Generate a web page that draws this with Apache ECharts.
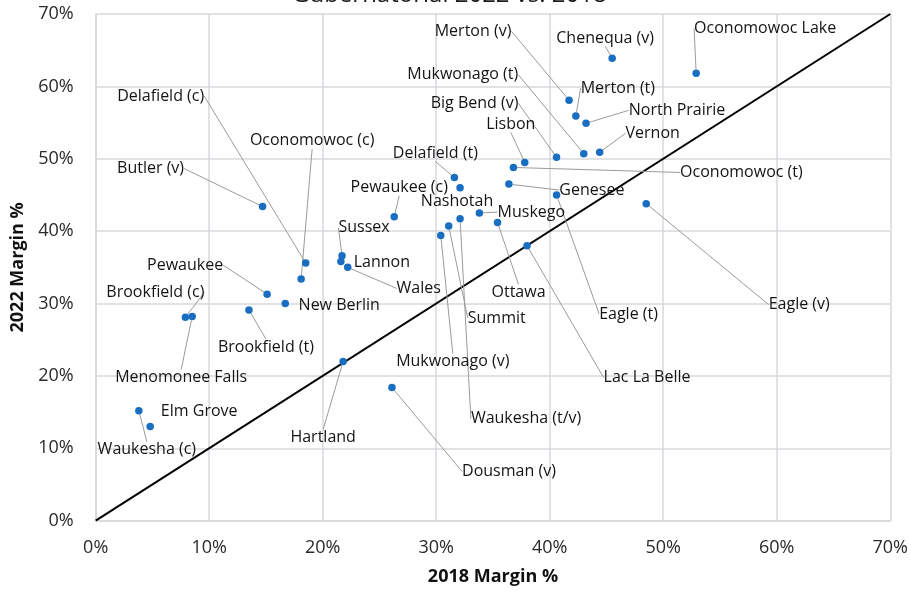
<!DOCTYPE html>
<html>
<head>
<meta charset="utf-8">
<script src="https://cdn.jsdelivr.net/npm/echarts@6/dist/echarts.min.js"></script>
<style>html,body{margin:0;padding:0;background:#fff}#chart{width:911px;height:591px}</style>
</head>
<body>
<div id="chart"></div>
<script>
// ---- data (values in %) ----
var names = ['Oconomowoc Lake','Chenequa (v)','Merton (v)','Merton (t)','North Prairie','Vernon','Mukwonago (t)','Big Bend (v)','Lisbon','Oconomowoc (t)','Delafield (t)','Nashotah','Genesee','Eagle (t)','Eagle (v)','Muskego','Waukesha (t/v)','Summit','Mukwonago (v)','Ottawa','Lac La Belle','Butler (v)','Delafield (c)','Oconomowoc (c)','Pewaukee (c)','Sussex','Lannon','Wales','Pewaukee','New Berlin','Brookfield (t)','Brookfield (c)','Menomonee Falls','Hartland','Elm Grove','Waukesha (c)','Dousman (v)'];
var margin2018 = [52.9,45.5,41.7,42.3,43.2,44.4,43.0,40.6,37.8,36.8,31.6,32.1,36.4,40.6,48.5,33.8,32.1,31.1,30.4,35.4,38.0,14.7,18.5,18.1,26.3,21.7,21.6,22.2,15.1,16.7,13.5,7.9,8.5,21.8,4.8,3.8,26.1];
var margin2022 = [61.8,63.9,58.1,55.9,54.9,50.9,50.7,50.2,49.5,48.8,47.4,46.0,46.5,45.0,43.8,42.5,41.7,40.7,39.4,41.2,38.0,43.4,35.6,33.4,42.0,36.6,35.8,35.0,31.3,30.0,29.1,28.1,28.2,22.0,13.0,15.2,18.4];
var diagonal = [[0,0],[70,70]];
var axisTicks = [0,10,20,30,40,50,60,70];

// ---- label placement (pixel offset of label centre from its point), styling only ----
var labelOffset = [[69,-45],[-7,-20],[-96,-69],[42,-28],[91,-13],[53,-19],[-121,-79],[-82,-54],[-14,-38],[228,5],[-19,-24],[-3,14],[83,6],[72,119],[153,101],[52,-1],[66,200],[48,92],[12,126],[21,70],[120,132],[-112,-38],[-145,-167],[11,-138],[5,-29],[22,-28],[41,1],[71,21],[-82,-29],[54,2],[17,37],[-30,-25],[-11,61],[-20,76],[49,-15],[8,39],[117,84]];
var noLeader = {'Nashotah':1,'Lannon':1,'New Berlin':1,'Elm Grove':1};

var FONT = '"Open Sans", "Liberation Sans", sans-serif';
var points = names.map(function(n,i){
  return {name:n, value:[margin2018[i], margin2022[i]], labelLine:{show:!noLeader[n]}};
});

var chart = echarts.init(document.getElementById('chart'));
chart.setOption({
  animation:false,
  title:{text:'Gubernatorial 2022 vs. 2018', left:287, top:-22, textStyle:{fontFamily:FONT,fontSize:24,fontWeight:'normal',color:'#1a1a1a'}},
  grid:{left:95.7, right:20.3, top:14, bottom:70.3},
  xAxis:{type:'value', min:axisTicks[0], max:axisTicks[axisTicks.length-1], interval:10,
    name:'2018 Margin %', nameLocation:'middle', nameGap:47,
    nameTextStyle:{fontFamily:FONT,fontSize:18,fontWeight:'bold',color:'#111'},
    axisLine:{show:true,lineStyle:{color:'#d6d9dc',width:1.5}}, axisTick:{show:false},
    axisLabel:{formatter:'{value}%',fontFamily:FONT,fontSize:18,color:'#2a2a2a',margin:18},
    splitLine:{show:true,lineStyle:{color:'#d6d9dc',width:1.5}}},
  yAxis:{type:'value', min:axisTicks[0], max:axisTicks[axisTicks.length-1], interval:10,
    name:'2022 Margin %', nameLocation:'middle', nameGap:64,
    nameTextStyle:{fontFamily:FONT,fontSize:18,fontWeight:'bold',color:'#111'},
    axisLine:{show:true,lineStyle:{color:'#d6d9dc',width:1.5}}, axisTick:{show:false},
    axisLabel:{formatter:'{value}%',fontFamily:FONT,fontSize:18,color:'#2a2a2a',margin:22},
    splitLine:{show:true,lineStyle:{color:'#d6d9dc',width:1.5}}},
  series:[
    {type:'line', data:diagonal, symbol:'none', silent:true, z:2,
     lineStyle:{color:'#000',width:2}},
    {type:'scatter', data:points, symbol:'circle', symbolSize:7.5, z:3,
     itemStyle:{color:'#1a6ec2', opacity:1},
     label:{show:true, position:'inside', formatter:'{b}', fontFamily:FONT, fontSize:16, color:'#141414', textBorderWidth:0},
     labelLine:{show:true, lineStyle:{color:'#9a9a9a',width:1}},
     labelLayout:function(p){ var o=labelOffset[p.dataIndex]; return {dx:o[0], dy:o[1]}; }}
  ]
});
</script>
</body>
</html>
